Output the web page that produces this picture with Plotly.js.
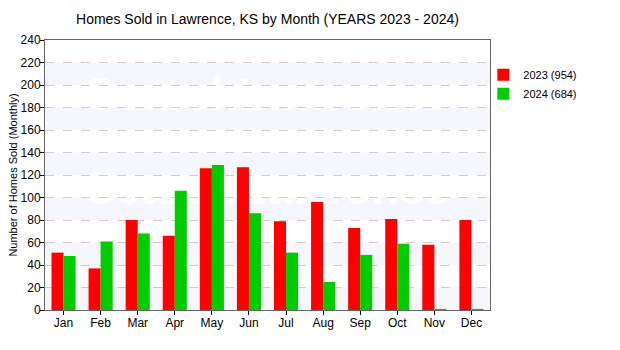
<!DOCTYPE html>
<html>
<head>
<meta charset="utf-8">
<script src="https://cdn.plot.ly/plotly-3.0.1.min.js"></script>
<style>html,body{margin:0;padding:0;background:#fff;}#chart{width:620px;height:350px;}</style>
</head>
<body>
<div id="chart"></div>
<script>
const months = ["Jan","Feb","Mar","Apr","May","Jun","Jul","Aug","Sep","Oct","Nov","Dec"];
const sold2023 = [51,37,80,66,126,127,79,96,73,81,58,80];
const sold2024 = [48,61,68,106,129,86,51,25,49,59,1,1];
const yTicks = [0,20,40,60,80,100,120,140,160,180,200,220,240];

const sum = a => a.reduce((s,v)=>s+v,0);

const traces = [
  {type:'bar', x:months, y:sold2023, name:'2023 (' + sum(sold2023) + ')',
   marker:{color:'#ff0000', line:{width:0}}, hoverinfo:'x+y'},
  {type:'bar', x:months, y:sold2024, name:'2024 (' + sum(sold2024) + ')',
   marker:{color:'#00cc00', line:{width:0}}, hoverinfo:'x+y'}
];

const font = "Liberation Sans, Arial, sans-serif";

// alternating background bands
const shapes = [];
for (let i = 0; i < yTicks.length - 1; i += 2) {
  shapes.push({type:'rect', xref:'paper', yref:'y', x0:0, x1:1,
    y0:yTicks[i], y1:yTicks[i+1], fillcolor:'#f6f6fd', line:{width:0}, layer:'below'});
}
// faint watermark, drawn below the bars
[196, 112].forEach(yc => {
  shapes.push({type:'rect', xref:'paper', yref:'y', x0:0.05, x1:0.95, y0:yc-15, y1:yc+15,
    fillcolor:'rgba(0,0,0,0)', line:{width:0}, layer:'below',
    label:{text:'SearchLawrence', textposition:'middle center',
      font:{family:font, size:46, weight:'bold', color:'rgba(255,255,255,0.95)'}}});
});

const layout = {
  width:620, height:350,
  margin:{l:45, r:130, t:40, b:40},
  paper_bgcolor:'#ffffff', plot_bgcolor:'#ffffff',
  font:{family:font, size:12, color:'#000'},
  title:{text:'Homes Sold in Lawrence, KS by Month (YEARS 2023 - 2024)',
    font:{family:font, size:14, color:'#000'}, x:0.5, xref:'paper', y:0.945, yref:'container', yanchor:'middle'},
  barmode:'group', bargap:0.35, bargroupgap:0,
  showlegend:true,
  legend:{x:0.985, xanchor:'left', y:0.925, yanchor:'top', font:{family:font, size:11, color:'#000'},
    bgcolor:'rgba(0,0,0,0)', itemwidth:30, tracegroupgap:2},
  xaxis:{type:'category', showgrid:false, showline:true, linecolor:'#666', linewidth:1, mirror:true,
    ticks:'outside', ticklen:4, tickcolor:'#000', tickfont:{family:font, size:12}, ticklabelstandoff:-2, fixedrange:true},
  yaxis:{range:[0,240], tickvals:yTicks, ticktext:yTicks.map(String),
    showgrid:true, gridcolor:'#dcc6d2', griddash:'dash', gridwidth:1,
    zeroline:false, showline:true, linecolor:'#666', linewidth:1, mirror:true,
    ticks:'outside', ticklen:4, tickcolor:'#000', tickfont:{family:font, size:12}, ticklabelstandoff:-3,
    title:{text:'Number of Homes Sold (Monthly)', font:{family:font, size:11}, standoff:0}, fixedrange:true},
  shapes:shapes
};

Plotly.newPlot('chart', traces, layout, {displayModeBar:false, staticPlot:true});
</script>
</body>
</html>
